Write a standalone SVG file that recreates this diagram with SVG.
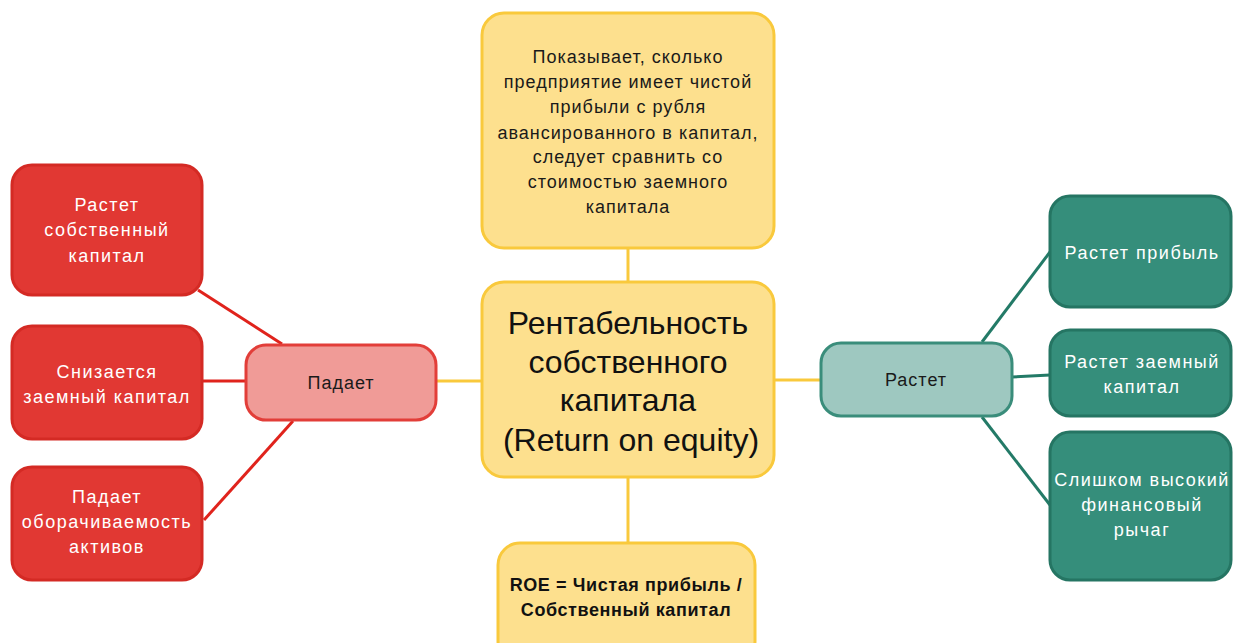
<svg xmlns="http://www.w3.org/2000/svg" width="1234" height="643" viewBox="0 0 1234 643">
<style>
.red{fill:#e13833;stroke:#d42a24;stroke-width:3}
.pink{fill:#f09b97;stroke:#e23e39;stroke-width:3}
.yel{fill:#fde08e;stroke:#f9c93c;stroke-width:3}
.grn{fill:#358e7b;stroke:#257563;stroke-width:3}
.lgrn{fill:#9ec8c0;stroke:#3a8d7b;stroke-width:3}
.t{font-family:"Liberation Sans",Arial,sans-serif;text-anchor:middle}
.w{fill:#ffffff;font-size:18px;letter-spacing:1.5px}
.b{fill:#1a1a1a;font-size:18px;letter-spacing:1px}
.big{fill:#111111;font-size:32px}
.bold{fill:#111111;font-size:18px;font-weight:bold;letter-spacing:0.6px}
.lr{stroke:#e0231c;stroke-width:3;fill:none}
.lg{stroke:#237a67;stroke-width:3;fill:none}
.ly{stroke:#f9c93c;stroke-width:3;fill:none}
</style>
<g id="connectors">
<line class="ly" x1="628" y1="248" x2="628" y2="282"/>
<line class="ly" x1="628" y1="477" x2="628" y2="543"/>
<line class="ly" x1="436" y1="381" x2="482" y2="381"/>
<line class="ly" x1="774" y1="380" x2="821" y2="380"/>
<line class="lr" x1="198" y1="290" x2="282" y2="344"/>
<line class="lr" x1="202" y1="381" x2="246" y2="381"/>
<line class="lr" x1="204" y1="520" x2="293" y2="421"/>
<line class="lg" x1="982" y1="342" x2="1050" y2="252"/>
<line class="lg" x1="1012" y1="377" x2="1050" y2="375"/>
<line class="lg" x1="982" y1="417" x2="1050" y2="505"/>
</g>
<g id="center">
<rect class="yel" x="482" y="282" width="292" height="195" rx="22"/>
<text class="t big" x="628" y="334">Рентабельность</text>
<text class="t big" x="628" y="373">собственного</text>
<text class="t big" x="628" y="411">капитала</text>
<text class="t big" x="631" y="451">(Return on equity)</text>
</g>
<g id="desc">
<rect class="yel" x="482" y="13" width="292" height="235" rx="22"/>
<text class="t b" x="628" y="63">Показывает, сколько</text>
<text class="t b" x="628" y="88">предприятие имеет чистой</text>
<text class="t b" x="628" y="113">прибыли с рубля</text>
<text class="t b" x="628" y="139">авансированного в капитал,</text>
<text class="t b" x="628" y="163">следует сравнить со</text>
<text class="t b" x="628" y="188">стоимостью заемного</text>
<text class="t b" x="628" y="213">капитала</text>
</g>
<g id="formula">
<rect class="yel" x="498" y="543" width="257" height="120" rx="22"/>
<text class="t bold" x="626" y="591">ROE = Чистая прибыль /</text>
<text class="t bold" x="626" y="616">Собственный капитал</text>
</g>
<g id="falls">
<rect class="pink" x="246" y="345" width="190" height="75" rx="20"/>
<text class="t b" x="341" y="389">Падает</text>
</g>
<g id="red1">
<rect class="red" x="12" y="165" width="190" height="130" rx="20"/>
<text class="t w" x="107" y="211">Растет</text>
<text class="t w" x="107" y="236">собственный</text>
<text class="t w" x="107" y="262">капитал</text>
</g>
<g id="red2">
<rect class="red" x="12" y="326" width="190" height="113" rx="20"/>
<text class="t w" x="107" y="378">Снизается</text>
<text class="t w" x="107" y="403">заемный капитал</text>
</g>
<g id="red3">
<rect class="red" x="12" y="467" width="190" height="113" rx="20"/>
<text class="t w" x="107" y="503">Падает</text>
<text class="t w" x="107" y="528">оборачиваемость</text>
<text class="t w" x="107" y="553">активов</text>
</g>
<g id="grows">
<rect class="lgrn" x="821" y="343" width="191" height="73" rx="20"/>
<text class="t b" x="916" y="386">Растет</text>
</g>
<g id="green1">
<rect class="grn" x="1050" y="196" width="181" height="111" rx="20"/>
<text class="t w" x="1142" y="259">Растет прибыль</text>
</g>
<g id="green2">
<rect class="grn" x="1050" y="330" width="181" height="86" rx="20"/>
<text class="t w" x="1142" y="368">Растет заемный</text>
<text class="t w" x="1142" y="393">капитал</text>
</g>
<g id="green3">
<rect class="grn" x="1050" y="432" width="181" height="148" rx="20"/>
<text class="t w" x="1142" y="486">Слишком высокий</text>
<text class="t w" x="1142" y="511">финансовый</text>
<text class="t w" x="1142" y="536">рычаг</text>
</g>
</svg>
